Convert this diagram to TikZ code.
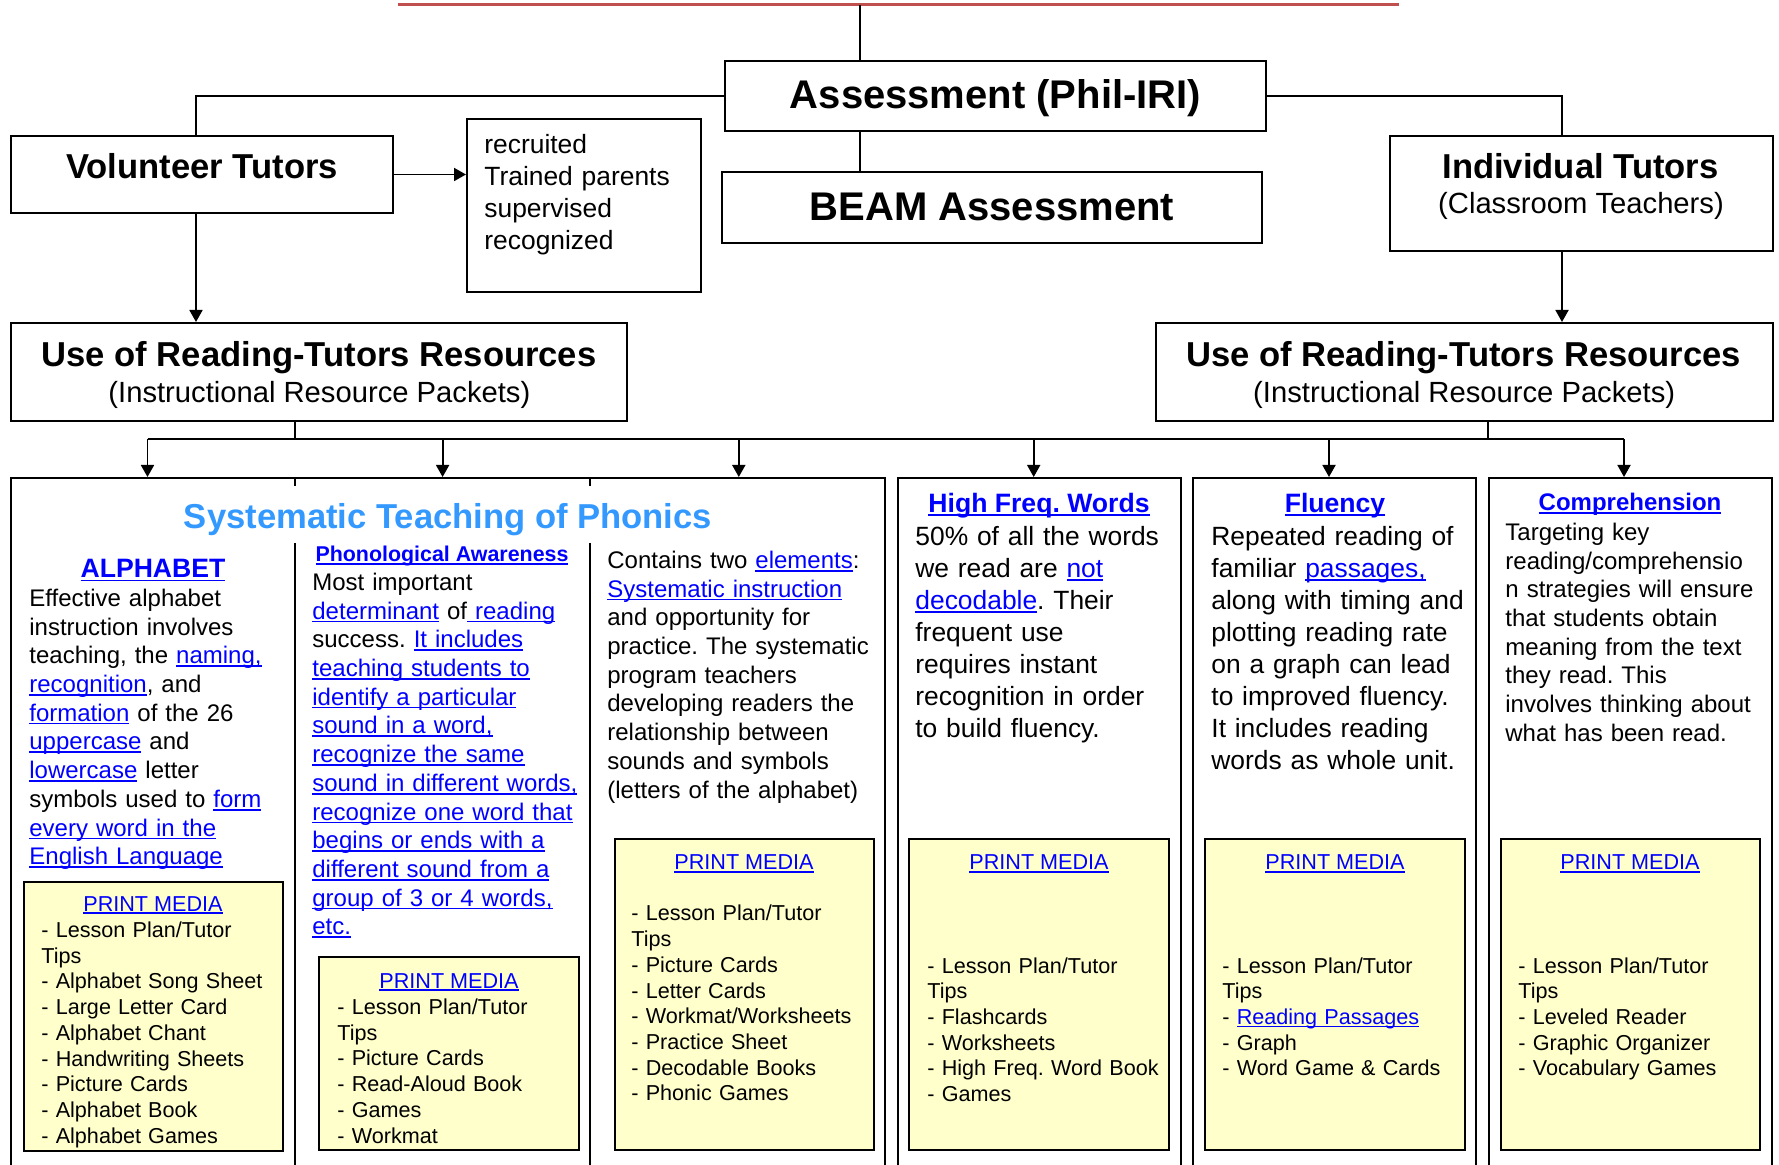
\documentclass[tikz,border=0pt]{standalone}
\usepackage{fontspec}
\setmainfont{Liberation Sans}
\usetikzlibrary{arrows.meta}
\definecolor{linkblue}{HTML}{0000FF}
\definecolor{headblue}{HTML}{3399FF}
\definecolor{mediafill}{HTML}{FFFFCC}
\definecolor{rulered}{HTML}{C0504D}
\newcommand\fs[2]{\fontsize{#1}{#2}\selectfont}
\newcommand\lnk[1]{\textcolor{linkblue}{\setbox0\hbox{#1}\rlap{\rule[-0.13em]{\wd0}{0.07em}}\box0}}
\frenchspacing
\begin{document}
\begin{tikzpicture}[x=0.5pt, y=-0.5pt,
    box/.style={draw, line width=1pt, inner sep=0pt},
    media/.style={draw, line width=1.2pt, fill=mediafill, inner sep=0pt},
    link/.style={line width=0.9pt},
    arr/.style={-{Triangle[length=6pt,width=6.5pt]}, line width=0.9pt},
    big/.style={font=\fs{20}{24}\bfseries, anchor=base},
    head/.style={font=\fs{17.3}{20}\bfseries, anchor=base},
    sub/.style={font=\fs{14.6}{17}, anchor=base},
    colhead/.style={font=\fs{13.3}{16}\bfseries, anchor=base},
    col/.style={font=\fs{12}{14.35}, anchor=base west, align=left, text width=150pt, inner sep=0pt},
    colbig/.style={font=\fs{13.2}{16}, anchor=base west, align=left, text width=150pt, inner sep=0pt},
    mhead/.style={font=\fs{10.8}{12.85}, anchor=base},
    item/.style={font=\fs{10.8}{12.85}, anchor=base west, align=left, text width=125pt, inner sep=0pt}]
  \useasboundingbox (0,0) rectangle (1779,1165);

  \coordinate (ruleL) at (398,5);
  \coordinate (ruleR) at (1399,5);
  \coordinate (trunk) at (860,5);
  \coordinate (vx) at (196,0);
  \coordinate (ix) at (1562,0);
  \coordinate (sep1) at (295,0);
  \coordinate (sep2) at (590,0);
  \coordinate (rdrop) at (1488,0);
  \coordinate (bus) at (0,439);

  \node[box, minimum width=270.5pt, minimum height=35pt] (assess) at (995.5,96) {};
  \node[box, minimum width=270pt, minimum height=35.5pt] (beam) at (992,207.5) {};
  \node[box, minimum width=191pt, minimum height=38.5pt] (volunteer) at (202,174.5) {};
  \node[box, minimum width=117pt, minimum height=86.5pt] (recruit) at (584,205.5) {};
  \node[box, minimum width=191.5pt, minimum height=57.5pt] (indiv) at (1581.5,193.5) {};
  \node[box, minimum width=308pt, minimum height=49pt] (useL) at (319,372) {};
  \node[box, minimum width=308.5pt, minimum height=49pt] (useR) at (1464.5,372) {};

  \node[box, minimum width=437pt, minimum height=361pt] (phon) at (448,839) {};
  \node[box, minimum width=141.5pt, minimum height=361pt] (hfw) at (1039.5,839) {};
  \node[box, minimum width=141.5pt, minimum height=361pt] (flu) at (1334.5,839) {};
  \node[box, minimum width=141.5pt, minimum height=361pt] (comp) at (1630.5,839) {};
  \draw[line width=1pt] (sep1 |- phon.north) -- (295,486) (295,543) -- (295,1200);
  \draw[line width=1pt] (sep2 |- phon.north) -- (590,486) (590,543) -- (590,1200);

  \node[big] (assessT) at (995.5,109) {Assessment (Phil-IRI)};
  \node[big] (beamT) at (992,220.5) {BEAM Assessment};
  \node[head] (volunteerT) at (202,179) {Volunteer Tutors};
  \node[font=\fs{13.2}{16}, anchor=base west, align=left, text width=105pt, inner sep=0pt] (recruitT) at (484,154)
    {recruited\\Trained parents\\supervised\\recognized};
  \node[head] (indivT) at (1580.5,179) {Individual Tutors};
  \node[sub] (indivS) at (1581,214) {(Classroom Teachers)};
  \node[head] (useLT) at (319,366.5) {Use of Reading-Tutors Resources};
  \node[sub] (useLS) at (319.4,403) {(Instructional Resource Packets)};
  \node[head] (useRT) at (1463.6,366.5) {Use of Reading-Tutors Resources};
  \node[sub] (useRS) at (1464.2,403) {(Instructional Resource Packets)};

  \node[head, text=headblue] (phonT) at (448,528.5) {Systematic Teaching of Phonics};

  \node[colhead] (alphaH) at (153,578) {\lnk{ALPHABET}};
  \node[col] (alphaT) at (29,606.5) {Effective alphabet\\
    instruction involves\\
    teaching, the \lnk{naming,}\\
    \lnk{recognition}, and\\
    \lnk{formation} of the 26\\
    \lnk{uppercase} and\\
    \lnk{lowercase} letter\\
    symbols used to \lnk{form}\\
    \lnk{every word in the}\\
    \lnk{English Language}};

  \node[font=\fs{10.7}{13}\bfseries, anchor=base] (phonoH) at (442,562) {\lnk{Phonological Awareness}};
  \node[col] (phonoT) at (312,590.5) {Most important\\
    \lnk{determinant} of\lnk{\ reading}\\
    success. \lnk{It includes}\\
    \lnk{teaching students to}\\
    \lnk{identify a particular}\\
    \lnk{sound in a word,}\\
    \lnk{recognize the same}\\
    \lnk{sound in different words,}\\
    \lnk{recognize one word that}\\
    \lnk{begins or ends with a}\\
    \lnk{different sound from a}\\
    \lnk{group of 3 or 4 words,}\\
    \lnk{etc.}};

  \node[col] (elemT) at (607,568.5) {Contains two \lnk{elements}:\\
    \lnk{Systematic instruction}\\
    and opportunity for\\
    practice. The systematic\\
    program teachers\\
    developing readers the\\
    relationship between\\
    sounds and symbols\\
    (letters of the alphabet)};

  \node[colhead] (hfwH) at (1039,512.5) {\lnk{High Freq. Words}};
  \node[colbig] (hfwT) at (915,545.5) {50\% of all the words\\
    we read are \lnk{not}\\
    \lnk{decodable}. Their\\
    frequent use\\
    requires instant\\
    recognition in order\\
    to build fluency.};

  \node[colhead] (fluH) at (1335,512.5) {\lnk{Fluency}};
  \node[colbig] (fluT) at (1211,545.5) {Repeated reading of\\
    familiar \lnk{passages,}\\
    along with timing and\\
    plotting reading rate\\
    on a graph can lead\\
    to improved fluency.\\
    It includes reading\\
    words as whole unit.};

  \node[font=\fs{12}{14}\bfseries, anchor=base] (compH) at (1630,510.5) {\lnk{Comprehension}};
  \node[col] (compT) at (1505,540.5) {Targeting key\\
    reading/comprehensio\\
    n strategies will ensure\\
    that students obtain\\
    meaning from the text\\
    they read. This\\
    involves thinking about\\
    what has been read.};

  \node[media, minimum width=129.6pt, minimum height=134.5pt] (m1) at (153.4,1016.5) {};
  \node[media, minimum width=130pt, minimum height=96.5pt] (m2) at (449,1053.5) {};
  \node[media, minimum width=129.5pt, minimum height=155.5pt] (m3) at (744.5,994.5) {};
  \node[media, minimum width=130pt, minimum height=155.5pt] (m4) at (1039,994.5) {};
  \node[media, minimum width=130pt, minimum height=155.5pt] (m5) at (1335,994.5) {};
  \node[media, minimum width=129.5pt, minimum height=155.5pt] (m6) at (1630.5,994.5) {};

  \node[mhead] (m1H) at (153,911) {\lnk{PRINT MEDIA}};
  \node[item] (m1T) at (41,937.5) {- Lesson Plan/Tutor\\Tips\\- Alphabet Song Sheet\\- Large Letter Card\\
    - Alphabet Chant\\- Handwriting Sheets\\- Picture Cards\\- Alphabet Book\\- Alphabet Games};
  \node[mhead] (m2H) at (449,988) {\lnk{PRINT MEDIA}};
  \node[item] (m2T) at (337,1014.5) {- Lesson Plan/Tutor\\Tips\\- Picture Cards\\- Read-Aloud Book\\- Games\\- Workmat};
  \node[mhead] (m3H) at (744,870) {\lnk{PRINT MEDIA}};
  \node[item] (m3T) at (631,921) {- Lesson Plan/Tutor\\Tips\\- Picture Cards\\- Letter Cards\\
    - Workmat/Worksheets\\- Practice Sheet\\- Decodable Books\\- Phonic Games};
  \node[mhead] (m4H) at (1039,870) {\lnk{PRINT MEDIA}};
  \node[item] (m4T) at (927,973) {- Lesson Plan/Tutor\\Tips\\- Flashcards\\- Worksheets\\- High Freq. Word Book\\- Games};
  \node[mhead] (m5H) at (1335,870) {\lnk{PRINT MEDIA}};
  \node[item] (m5T) at (1222,973) {- Lesson Plan/Tutor\\Tips\\- \lnk{Reading Passages}\\- Graph\\- Word Game \& Cards};
  \node[mhead] (m6H) at (1630,870) {\lnk{PRINT MEDIA}};
  \node[item] (m6T) at (1518,973) {- Lesson Plan/Tutor\\Tips\\- Leveled Reader\\- Graphic Organizer\\- Vocabulary Games};

  \draw[rulered, line width=1.5pt] (ruleL) -- (ruleR);
  \begin{scope}[link]
    \draw (trunk) -- (trunk |- assess.north);
    \draw (trunk |- assess.south) -- (trunk |- beam.north);
    \draw (assess.west) -| (vx |- volunteer.north);
    \draw (assess.east) -| (ix |- indiv.north);
    \draw (sep1 |- useL.south) -- (sep1 |- bus);
    \draw (rdrop |- useR.south) -- (rdrop |- bus);
    \draw (147.5,439) -- (1624,439);
  \end{scope}
  \begin{scope}[arr]
    \draw (volunteer.east) -- (volunteer.east -| recruit.west);
    \draw (vx |- volunteer.south) -- (vx |- useL.north);
    \draw (ix |- indiv.south) -- (ix |- useR.north);
    \draw (147.5,439) -- (147.5,0 |- phon.north);
    \draw (442.6,439) -- (442.6,0 |- phon.north);
    \draw (738.8,439) -- (738.8,0 |- phon.north);
    \draw (1033.7,439) -- (1033.7,0 |- hfw.north);
    \draw (1329,439) -- (1329,0 |- flu.north);
    \draw (1624,439) -- (1624,0 |- comp.north);
  \end{scope}
\end{tikzpicture}
\end{document}
